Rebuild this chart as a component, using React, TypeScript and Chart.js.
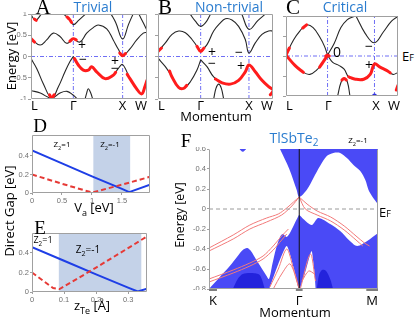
import React, { useEffect, useRef } from 'react';
import { Chart, registerables } from 'chart.js';
Chart.register(...registerables);

type P = [number, number];

// ---------- Panels A–C : bulk band structures (momentum normalised L=0 … W=1) ----------
const kLabelsABC = ['L', 'Γ', 'X', 'W'];
const kPosA = [0, 0.365, 0.79, 1];
const kPosB = [0, 0.371, 0.791, 1];
const kPosC = [0, 0.371, 0.79, 1];
const energyTicksABC = [-1, -0.5, 0, 0.5, 1];
const energyTickLabelsA = ['-1', '-0.5', '0', '0.5', '1'];

const bandsA: P[][] = [
  [[0, 0.42], [0.078, 0.27], [0.135, 0.39], [0.192, 0.55], [0.25, 0.47], [0.308, 0.31], [0.365, 0.42]],
  [[0.365, 0.42], [0.422, 0.34], [0.48, 0.55], [0.537, 0.68], [0.58, 0.74], [0.653, 0.65], [0.709, 0.39], [0.753, 0.17], [0.79, 0.02], [0.853, 0.18], [0.911, 0.39], [0.968, 0.55], [1, 0.57]],
  [[0, -0.05], [0.049, -0.28], [0.106, -0.64], [0.178, -0.98], [0.235, -0.72], [0.293, -0.36], [0.336, -0.12], [0.365, 0]],
  [[0.365, 0], [0.408, -0.2], [0.451, -0.32], [0.494, -0.32], [0.523, -0.24], [0.566, -0.36], [0.638, -0.52], [0.709, -0.44], [0.753, -0.28], [0.79, -0.19], [0.853, -0.52], [0.911, -0.76], [0.954, -0.88], [0.983, -0.7], [1, -0.56]],
  [[0, -0.8], [0.08, -0.86], [0.178, -0.98], [0.25, -0.86], [0.31, -0.82], [0.36, -0.9], [0.4, -1.0]],
  [[0.466, -1], [0.48, -0.86], [0.494, -0.76], [0.515, -0.86], [0.532, -1]],
  [[0, 0.98], [0.04, 0.85], [0.09, 1.0]],
  [[0.28, 1.0], [0.33, 0.88], [0.365, 0.75], [0.41, 0.85], [0.47, 1.0]],
  [[0.69, 1.0], [0.73, 0.8], [0.79, 0.41], [0.84, 0.75], [0.88, 1.0]],
  [[0.93, 1.0], [0.97, 0.78], [1.0, 0.62]],
];
const redA: P[][] = [
  [[0, 0.42], [0.03, 0.34]],
  [[0.335, 0.36], [0.365, 0.42], [0.39, 0.39]],
  [[0.765, 0.08], [0.79, 0.02], [0.815, 0.07]],
  [[0.16, -0.9], [0.178, -0.98], [0.2, -0.9]],
  [[0.375, -0.05], [0.408, -0.2], [0.451, -0.32], [0.494, -0.32], [0.523, -0.24], [0.566, -0.36], [0.638, -0.52], [0.709, -0.44], [0.73, -0.37]],
  [[0.83, -0.42], [0.853, -0.52], [0.911, -0.76], [0.954, -0.88], [0.983, -0.7], [1, -0.56]],
  [[0.31, 0.93], [0.33, 0.88], [0.35, 0.8]],
  [[0.03, 0.88], [0.045, 0.85]],
];

const bandsB: P[][] = [
  [[0, 0.12], [0.064, 0.32], [0.122, 0.52], [0.18, 0.6], [0.238, 0.56], [0.296, 0.4], [0.339, 0.24], [0.371, 0.12]],
  [[0.371, 0.12], [0.426, 0.28], [0.484, 0.6], [0.542, 0.79], [0.586, 0.89], [0.643, 0.86], [0.701, 0.71], [0.759, 0.4], [0.791, 0.08], [0.846, 0.32], [0.904, 0.52], [0.962, 0.6], [1, 0.6]],
  [[0, -0.04], [0.064, -0.24], [0.122, -0.48], [0.18, -0.73], [0.223, -0.75], [0.28, -0.6], [0.339, -0.32], [0.371, -0.08]],
  [[0.371, -0.08], [0.426, -0.24], [0.484, -0.48], [0.557, -0.62], [0.629, -0.65], [0.701, -0.56], [0.759, -0.36], [0.791, -0.2], [0.846, -0.36], [0.904, -0.56], [0.962, -0.71], [1, -0.78]],
  [[0.484, -1.0], [0.504, -0.75], [0.528, -0.65], [0.551, -0.75], [0.571, -1.0]],
  [[0.281, 0.99], [0.325, 0.83], [0.368, 0.71], [0.412, 0.79], [0.455, 0.99]],
  [[0.73, 0.99], [0.791, 0.64], [0.87, 0.85], [0.93, 0.99]],
];
const redB: P[][] = [
  [[0, 0.12], [0.03, 0.2]],
  [[0.339, 0.24], [0.371, 0.12], [0.4, 0.2]],
  [[0.1, -0.34], [0.122, -0.48], [0.18, -0.73], [0.223, -0.75], [0.25, -0.68]],
  [[0.5, -0.53], [0.557, -0.62], [0.629, -0.65], [0.701, -0.56], [0.759, -0.36], [0.791, -0.2], [0.846, -0.36], [0.904, -0.56], [0.962, -0.71], [1, -0.78]],
  [[0.977, -0.9], [1, -0.82]],
];

const bandsC: P[][] = [
  [[0, 0.02], [0.067, 0.4], [0.125, 0.63], [0.184, 0.78], [0.242, 0.71], [0.3, 0.48], [0.344, 0.24], [0.371, 0.02]],
  [[0.371, 0.02], [0.431, 0.32], [0.49, 0.71], [0.548, 0.91], [0.606, 0.99]],
  [[0, 0.02], [0.082, -0.24], [0.155, -0.41], [0.213, -0.46], [0.271, -0.36], [0.329, -0.16], [0.371, 0.02]],
  [[0.371, 0.02], [0.417, -0.16], [0.475, -0.24], [0.519, -0.33], [0.563, -0.54], [0.621, -0.58], [0.694, -0.58], [0.752, -0.46], [0.79, -0.2], [0.84, -0.28], [0.898, -0.36], [0.956, -0.46], [1, -0.41]],
  [[0.627, 0.99], [0.708, 0.56], [0.79, 0.33], [0.869, 0.6], [0.942, 0.87], [1, 0.99]],
  [[0.461, -1], [0.49, -0.67], [0.519, -0.56], [0.548, -0.65], [0.571, -1]],
];
const redC: P[][] = [
  [[0, 0.02], [0.03, 0.2]],
  [[0.15, 0.7], [0.184, 0.78]],
  [[0, 0.02], [0.082, -0.24], [0.155, -0.41]],
  [[0.3, -0.28], [0.329, -0.16], [0.371, 0.02]],
  [[0.355, 0.0], [0.371, 0.02], [0.387, 0.0]],
  [[0.56, -0.52], [0.621, -0.58], [0.694, -0.58], [0.752, -0.46], [0.79, -0.2], [0.84, -0.28], [0.898, -0.36], [0.93, -0.42]],
  [[0.5, -0.6], [0.519, -0.56], [0.538, -0.6]],
  [[0.985, -0.85], [1, -0.73]],
];
const blueDotC: P[] = [[0.79, -1]];

// ---------- Panel D : direct gap vs V_a ----------
const dTicksVa = [0, 0.5, 1, 1.5];
const dTickLabelsVa = ['0', '0.5', '1', '1.5'];
const dTicksGap = [0, 0.2, 0.4];
const dTickLabelsGap = ['0', '0.2', '0.4'];
const dBlueVa = [0, 0.5, 1.0, 1.5, 1.62, 1.967];
const dBlueGap = [0.46, 0.32, 0.18, 0.045, 0.01, 0.09];
const dRedVa = [0, 0.5, 1.0, 1.5, 1.967];
const dRedGap = [0.2, 0.1, 0.005, 0.09, 0.175];
const dTopoRange = [1.02, 1.64];

// ---------- Panel E : direct gap vs z_Te ----------
const eTicksZ = [0, 0.1, 0.2, 0.3];
const eTickLabelsZ = ['0', '0.1', '0.2', '0.3'];
const eTicksGap = [0, 0.2, 0.4];
const eTickLabelsGap = ['0', '0.2', '0.4'];
const eBlueZ = [0, 0.1, 0.2, 0.3, 0.33, 0.359];
const eBlueGap = [0.46, 0.32, 0.18, 0.045, 0.005, 0.035];
const eRedZ = [0, 0.066, 0.086, 0.2, 0.3, 0.359];
const eRedGap = [0.2, 0.04, 0.03, 0.25, 0.45, 0.57];
const eTopoRange = [0.083, 0.342];

// ---------- Panel F : TlSbTe2 surface spectrum (K̄=0, Γ̄, M̄=1) ----------
const kLabelsF = ['K', 'Γ', 'M'];
const kPosF = [0, 0.534, 1];
const fEnergyTicks = [-0.8, -0.6, -0.4, -0.2, 0, 0.2, 0.4, 0.6];
const fEnergyTickLabels = ['-0.8', '-0.6', '-0.4', '-0.2', '0', '0.2', '0.4', '0.6'];
const fConductionEdge: P[] = [[0.42, 0.6], [0.475, 0.4], [0.519, 0.19], [0.534, 0.12], [0.578, 0.19], [0.618, 0.31], [0.657, 0.43], [0.697, 0.53], [0.736, 0.56], [0.776, 0.56], [0.816, 0.51], [0.855, 0.44], [0.895, 0.38], [0.925, 0.29], [0.944, 0.19], [0.964, 0.13], [0.994, 0.06], [1, 0.05]];
const fTopBlob: P[] = [[0.18, 0.6], [0.2, 0.572], [0.22, 0.6]];
const fValenceEdge: P[] = [[0, -0.8], [0.064, -0.68], [0.123, -0.57], [0.17, -0.47], [0.2, -0.41], [0.226, -0.39], [0.248, -0.42], [0.277, -0.5], [0.307, -0.58], [0.337, -0.66], [0.355, -0.7], [0.375, -0.55], [0.396, -0.4], [0.42, -0.28], [0.437, -0.25], [0.46, -0.28], [0.485, -0.22], [0.508, -0.14], [0.526, -0.08], [0.534, -0.06], [0.558, -0.1], [0.608, -0.16], [0.647, -0.09], [0.717, -0.15], [0.776, -0.22], [0.834, -0.32], [0.877, -0.37], [0.936, -0.32], [1, -0.24]];
const fGapWedges: P[][] = [
  [[0.356, -0.8], [0.41, -0.55], [0.46, -0.37], [0.5, -0.58], [0.53, -0.8]],
  [[0.538, -0.8], [0.575, -0.6], [0.607, -0.42], [0.622, -0.6], [0.632, -0.8]],
];
const fDeepBulk: P[][] = [
  [[0.141, -0.8], [0.17, -0.7], [0.2, -0.65], [0.254, -0.64], [0.3, -0.66], [0.331, -0.8]],
  [[0.638, -0.8], [0.651, -0.66], [0.669, -0.61], [0.693, -0.62], [0.717, -0.7], [0.734, -0.8]],
];
const fSurfaceStates: P[][] = [
  [[0, -0.39], [0.143, -0.26], [0.242, -0.16], [0.341, -0.09], [0.41, -0.05], [0.46, 0.01], [0.5, 0.07], [0.534, 0.12]],
  [[0, -0.42], [0.143, -0.3], [0.242, -0.2], [0.341, -0.13], [0.43, -0.06], [0.49, 0.03], [0.534, 0.12]],
  [[0.534, 0.12], [0.58, 0.05], [0.64, -0.02], [0.72, -0.08], [0.8, -0.17], [0.87, -0.27], [0.92, -0.34], [0.95, -0.37]],
  [[0.534, 0.12], [0.57, 0.0], [0.64, -0.06], [0.72, -0.12], [0.8, -0.21], [0.87, -0.31], [0.91, -0.37]],
  [[0, -0.7], [0.143, -0.61], [0.242, -0.54], [0.32, -0.47], [0.38, -0.37], [0.43, -0.27], [0.47, -0.2]],
  [[0, -0.73], [0.143, -0.64], [0.242, -0.57], [0.32, -0.5], [0.38, -0.41], [0.43, -0.31], [0.46, -0.25]],
  [[0.36, -0.78], [0.41, -0.6], [0.46, -0.4], [0.5, -0.6], [0.534, -0.8]],
  [[0.38, -0.8], [0.43, -0.65], [0.48, -0.55], [0.534, -0.8]],
  [[0.54, -0.8], [0.6, -0.45], [0.63, -0.72]],
  [[0.55, -0.72], [0.59, -0.62], [0.625, -0.65]],
];

// ---------- styling ----------
const SANS = "'Open Sans', 'Liberation Sans', sans-serif";
const SERIF = "'Liberation Serif', 'DejaVu Serif', serif";
const TITLE_BLUE = '#2a7ccf';
const GUIDE = '#6f6ff5';
const BULK_BLUE = '#4a4af6';
const DEEP_BLUE = '#2323dc';
const TICK_FONT = { family: "'Liberation Sans', sans-serif", size: 7.5 };
const TICK_COLOR = '#707070';

const pts = (a: P[]) => a.map(([x, y]) => ({ x, y }));
const zip = (xs: number[], ys: number[]) => xs.map((x, i) => ({ x, y: ys[i] }));

const line = (data: any[], color: string, width: number, extra: any = {}) => ({
  data, borderColor: color, borderWidth: width, pointRadius: 0, tension: 0.4, fill: false, ...extra,
});

const framePlugin = (sides: string) => ({
  id: 'frame',
  afterDatasetsDraw(chart: any) {
    const { ctx, chartArea: a } = chart;
    ctx.save();
    ctx.strokeStyle = '#a0a0a0';
    ctx.lineWidth = 1;
    ctx.beginPath();
    const l = Math.round(a.left) + 0.5, r = Math.round(a.right) - 0.5, t = Math.round(a.top) + 0.5, b = Math.round(a.bottom) - 0.5;
    if (sides.includes('t')) { ctx.moveTo(l, t); ctx.lineTo(r, t); }
    if (sides.includes('r')) { ctx.moveTo(r, t); ctx.lineTo(r, b); }
    if (sides.includes('b')) { ctx.moveTo(l, b); ctx.lineTo(r, b); }
    if (sides.includes('l')) { ctx.moveTo(l, t); ctx.lineTo(l, b); }
    ctx.stroke();
    ctx.restore();
  },
});

function axis(min: number, max: number, ticks: number[], labels: string[] | null, fit: number, isY: boolean, tickLen = 3) {
  return {
    type: 'linear', min, max,
    grid: { display: ticks.length > 0, drawOnChartArea: false, drawTicks: true, tickLength: tickLen, color: '#a0a0a0' },
    border: { display: false },
    ticks: {
      display: !!labels, font: TICK_FONT, color: TICK_COLOR, padding: 1, autoSkip: false, maxRotation: 0,
      callback: (_v: any, i: number) => (labels ? labels[i] : ''),
    },
    afterBuildTicks: (s: any) => { s.ticks = ticks.map((v) => ({ value: v })); },
    afterFit: (s: any) => {
      if (isY) s.width = fit; else s.height = fit;
      s.paddingLeft = 0; s.paddingRight = 0; s.paddingTop = 0; s.paddingBottom = 0;
    },
  };
}

function baseOptions(x: any, y: any, padTop: number, padRight: number) {
  return {
    animation: false, responsive: false, maintainAspectRatio: false, devicePixelRatio: 1,
    events: [],
    layout: { padding: { top: padTop, right: padRight, left: 0, bottom: 0 } },
    plugins: { legend: { display: false }, tooltip: { enabled: false }, title: { display: false } },
    scales: { x, y },
  };
}

function bandConfig(bands: P[][], reds: P[][], kPos: number[], yLabels: string[] | null, leftW: number, extra: any[] = []) {
  const datasets: any[] = [];
  datasets.push(line(pts([[0, 0], [1, 0]]), GUIDE, 1, { tension: 0, borderDash: [4, 2, 1, 2], order: 30 }));
  kPos.slice(1, 3).forEach((k) => datasets.push(line(pts([[k, -1], [k, 1]]), GUIDE, 1, { tension: 0, borderDash: [4, 2, 1, 2], order: 30 })));
  bands.forEach((b) => datasets.push(line(pts(b), '#262626', 1.1, { order: 20 })));
  reds.forEach((r) => datasets.push(line(pts(r), '#ff1c1c', 3, { order: 10, borderCapStyle: 'round' })));
  extra.forEach((e) => datasets.push(e));
  return {
    type: 'line',
    data: { datasets },
    options: baseOptions(axis(0, 1, [], null, 1, false), axis(-1, 1, energyTicksABC, yLabels, leftW, true), 2, 2),
    plugins: [framePlugin('trbl')],
  };
}

function gapConfig(xMax: number, yMax: number, xt: number[], xl: string[], yt: number[], yl: string[], blue: any[], red: any[], shade: number[]) {
  return {
    type: 'line',
    data: {
      datasets: [
        line(blue, '#1e3ee6', 2, { tension: 0, order: 2 }),
        line(red, '#e63a36', 2, { tension: 0, borderDash: [5, 3], order: 1 }),
        line(zip(shade, [yMax, yMax]), 'rgba(0,0,0,0)', 0, { tension: 0, fill: 'start', backgroundColor: '#c4d2e8', order: 5 }),
      ],
    },
    options: baseOptions(axis(0, xMax, xt, xl, 12, false, 2), axis(0, yMax, yt, yl, 32, true, 2), 2, 2),
    plugins: [framePlugin('trbl')],
  };
}

function surfaceConfig() {
  const ds: any[] = [];
  ds.push(line(pts([[0, 0], [1, 0]]), '#9a9a9a', 1, { tension: 0, borderDash: [4, 3], order: 3 }));
  ds.push(line(pts([[kPosF[1], -0.8], [kPosF[1], 0.6]]), '#111', 1, { tension: 0, order: 2 }));
  fSurfaceStates.forEach((s) => ds.push(line(pts(s), '#f27a7a', 1, { tension: 0.3, order: 6 })));
  fDeepBulk.forEach((s) => ds.push(line(pts(s), 'rgba(0,0,0,0)', 0, { tension: 0.3, fill: 'start', backgroundColor: DEEP_BLUE, order: 8 })));
  fGapWedges.forEach((s) => ds.push(line(pts(s), 'rgba(0,0,0,0)', 0, { tension: 0.2, fill: 'start', backgroundColor: '#ffffff', order: 9 })));
  ds.push(line(pts(fValenceEdge), 'rgba(0,0,0,0)', 0, { tension: 0.3, fill: 'start', backgroundColor: BULK_BLUE, order: 10 }));
  ds.push(line(pts(fConductionEdge), 'rgba(0,0,0,0)', 0, { tension: 0.3, fill: 'end', backgroundColor: BULK_BLUE, order: 10 }));
  ds.push(line(pts(fTopBlob), 'rgba(0,0,0,0)', 0, { tension: 0.4, fill: 'end', backgroundColor: BULK_BLUE, order: 10 }));
  return {
    type: 'line',
    data: { datasets: ds },
    options: baseOptions(axis(0, 1, [], null, 1, false), axis(-0.8, 0.6, fEnergyTicks, fEnergyTickLabels, 30, true, 2), 2, 2),
    plugins: [framePlugin('rbl')],
  };
}

function ChartBox({ x, y, w, h, config }: { x: number; y: number; w: number; h: number; config: () => any }) {
  const ref = useRef<HTMLCanvasElement>(null);
  useEffect(() => {
    const c = new Chart(ref.current as HTMLCanvasElement, config());
    return () => c.destroy();
  }, []);
  return <canvas ref={ref} width={w} height={h} style={{ position: 'absolute', left: x, top: y, width: w, height: h }} />;
}

function T({ x, y, children, size = 13, color = '#000', family = SANS, rotate = 0, anchor = 'c' }: any) {
  const tx = anchor === 'l' ? '0' : anchor === 'r' ? '-100%' : '-50%';
  return (
    <div style={{ position: 'absolute', left: x, top: y, transform: `translate(${tx},-50%) rotate(${rotate}deg)`, fontSize: size, color, fontFamily: family, whiteSpace: 'nowrap', lineHeight: 1 }}>
      {children}
    </div>
  );
}

function KLabels({ labels, pos, left, width, y, size = 13, overline = false }: any) {
  return (
    <>
      {labels.map((l: string, i: number) => (
        <T key={i} x={left + pos[i] * width} y={y} size={size} anchor={i === 0 ? 'l' : i === labels.length - 1 ? 'r' : 'c'}>
          {overline ? <span style={{ textDecoration: 'overline' }}>{l}</span> : l}
        </T>
      ))}
    </>
  );
}

const Z2 = ({ v }: { v: string }) => (<>Z<sub style={{ fontSize: '0.7em' }}>2</sub>={v}</>);

export default function App() {
  return (
    <div style={{ position: 'fixed', left: 0, top: 0, width: 415, height: 318, background: '#fff', overflow: 'hidden' }}>
      <ChartBox x={0} y={12} w={149} h={88} config={() => bandConfig(bandsA, redA, kPosA, energyTickLabelsA, 31)} />
      <ChartBox x={154} y={12} w={121} h={88} config={() => bandConfig(bandsB, redB, kPosB, null, 4)} />
      <ChartBox x={282} y={12} w={120} h={88}
        config={() => bandConfig(bandsC, redC, kPosC, null, 4, [line(pts(blueDotC), '#3030e0', 0, { pointRadius: 2.5, pointBackgroundColor: '#3030e0', pointBorderWidth: 0, order: 5 })])} />
      <ChartBox x={0} y={133} w={152} h={72}
        config={() => gapConfig(1.967, 0.627, dTicksVa, dTickLabelsVa, dTicksGap, dTickLabelsGap, zip(dBlueVa, dBlueGap), zip(dRedVa, dRedGap), dTopoRange)} />
      <ChartBox x={0} y={231} w={149} h={73}
        config={() => gapConfig(0.359, 0.605, eTicksZ, eTickLabelsZ, eTicksGap, eTickLabelsGap, zip(eBlueZ, eBlueGap), zip(eRedZ, eRedGap), eTopoRange)} />
      <ChartBox x={179} y={147} w={201} h={143} config={surfaceConfig} />

      {/* panel titles */}
      <T x={43} y={7} size={21} family={SERIF}>A</T>
      <T x={93} y={7} size={14} color={TITLE_BLUE}>Trivial</T>
      <T x={165} y={7} size={21} family={SERIF}>B</T>
      <T x={229} y={7} size={14} color={TITLE_BLUE}>Non-trivial</T>
      <T x={293} y={7} size={21} family={SERIF}>C</T>
      <T x={345} y={7} size={14} color={TITLE_BLUE}>Critical</T>

      <KLabels labels={kLabelsABC} pos={kPosA} left={31} width={116} y={105} />
      <KLabels labels={kLabelsABC} pos={kPosB} left={158} width={115} y={105} />
      <KLabels labels={kLabelsABC} pos={kPosC} left={286} width={114} y={105} />
      <T x={216} y={116}>Momentum</T>
      <T x={11} y={56} rotate={-90}>Energy [eV]</T>
      <T x={402} y={56} anchor="l">E<span style={{ fontSize: 9 }}>F</span></T>

      {/* parity labels */}
      <T x={82} y={45} size={14}>+</T>
      <T x={83} y={59} size={14}>−</T>
      <T x={115} y={61} size={14}>+</T>
      <T x={115} y={68} size={14}>−</T>
      <T x={212} y={52} size={14}>+</T>
      <T x={212} y={63} size={14}>−</T>
      <T x={239} y={52} size={14}>−</T>
      <T x={241} y={66} size={14}>+</T>
      <T x={337} y={52} size={14}>0</T>
      <T x={369} y={46} size={14}>−</T>
      <T x={369} y={65} size={14}>+</T>

      {/* D & E */}
      <T x={40} y={125} size={19} family={SERIF}>D</T>
      <T x={62} y={146} size={8}><Z2 v="1" /></T>
      <T x={110} y={146} size={8}><Z2 v="-1" /></T>
      <T x={94} y={209}>V<sub style={{ fontSize: 9 }}>a</sub> [eV]</T>
      <T x={9} y={211} rotate={-90}>Direct Gap [eV]</T>
      <T x={40} y={227} size={19} family={SERIF}>E</T>
      <T x={43} y={241} size={9}><Z2 v="1" /></T>
      <T x={88} y={250} size={10}><Z2 v="-1" /></T>
      <T x={92} y={307}>z<sub style={{ fontSize: 9 }}>Te</sub> [Å]</T>

      {/* F */}
      <T x={186} y={140} size={19} family={SERIF}>F</T>
      <T x={294} y={139} size={14} color={TITLE_BLUE}>TlSbTe<sub style={{ fontSize: 10 }}>2</sub></T>
      <T x={358} y={142} size={8}><Z2 v="-1" /></T>
      <T x={180} y={215} size={12.5} rotate={-90}>Energy [eV]</T>
      <KLabels labels={kLabelsF} pos={kPosF} left={209} width={169} y={300} overline />
      <T x={295} y={312}>Momentum</T>
      <T x={379} y={212} anchor="l">E<span style={{ fontSize: 9 }}>F</span></T>
    </div>
  );
}
